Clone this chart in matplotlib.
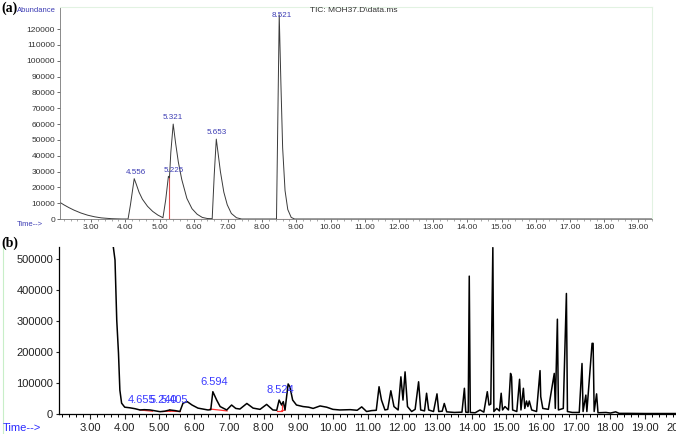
import numpy as np
import matplotlib
matplotlib.use('Agg')
import matplotlib.pyplot as plt
from matplotlib.ticker import MultipleLocator
from matplotlib.lines import Line2D

plt.rcParams['font.family'] = ['Liberation Sans', 'DejaVu Sans']

# ---- panel (a) : TIC trace (time, abundance)
ta = [2.09, 2.2, 2.35, 2.5, 2.7, 2.9, 3.1, 3.3, 3.6, 3.9,
      4.08, 4.15, 4.26, 4.32, 4.4, 4.5, 4.65, 4.8, 4.95, 5.1,
      5.18, 5.26, 5.29, 5.33, 5.4, 5.47, 5.55, 5.65, 5.8, 5.95,
      6.1, 6.25, 6.4, 6.54, 6.6, 6.66, 6.71, 6.78, 6.88, 6.98,
      7.1, 7.25, 7.4, 8.42, 8.5, 8.55, 8.6, 8.67, 8.75, 8.85,
      8.95, 19.4]
va = [10500, 9000, 7200, 5600, 3800, 2400, 1400, 700, 200, 0,
      0, 9000, 25500, 22000, 17000, 12500, 8000, 4800, 2500, 800,
      12000, 27000, 26000, 42000, 60000, 48000, 36000, 25000, 13000, 6500,
      3000, 1000, 300, 200, 28000, 50500, 42000, 30000, 17000, 9000,
      3500, 800, 0, 0, 129000, 85000, 45000, 18000, 6000, 1000,
      0, 0]
lab_a = ['4.556', '5.225', '5.321', '5.653', '8.521']
pk_a = [4.26, 5.26, 5.40, 6.66, 8.50]

# ---- panel (b)
tb = [3.64, 3.67, 3.72, 3.77, 3.82, 3.86, 3.91, 4.0, 4.15, 4.3,
      4.44, 4.56, 4.73, 4.88, 5.02, 5.15, 5.3, 5.45, 5.59, 5.68,
      5.8, 5.94, 6.11, 6.25, 6.4, 6.48, 6.54, 6.65, 6.75, 6.94,
      7.08, 7.2, 7.32, 7.52, 7.7, 7.9, 8.09, 8.27, 8.38, 8.45,
      8.52, 8.57, 8.62, 8.71, 8.76, 8.84, 8.95, 9.14, 9.3, 9.43,
      9.63, 9.82, 10.0, 10.2, 10.5, 10.7, 10.83, 10.97, 11.12, 11.25,
      11.33, 11.4, 11.5, 11.58, 11.67, 11.76, 11.88, 11.96, 12.02, 12.08,
      12.15, 12.27, 12.37, 12.47, 12.53, 12.64, 12.7, 12.76, 12.9, 13.0,
      13.05, 13.15, 13.21, 13.28, 13.5, 13.72, 13.79, 13.83, 13.9, 13.93,
      13.96, 14.1, 14.24, 14.35, 14.45, 14.5, 14.55, 14.61, 14.64, 14.72,
      14.8, 14.85, 14.89, 14.96, 15.06, 15.12, 15.15, 15.18, 15.3, 15.38,
      15.42, 15.49, 15.53, 15.58, 15.62, 15.66, 15.73, 15.87, 15.97, 15.99,
      16.05, 16.21, 16.38, 16.41, 16.47, 16.5, 16.64, 16.73, 16.76, 16.9,
      17.1, 17.18, 17.21, 17.29, 17.32, 17.47, 17.5, 17.53, 17.6, 17.64,
      17.87, 18.0, 18.15, 18.25, 18.5, 19.0, 19.5, 20.2]
vb = [600000, 540000, 497000, 303000, 197000, 77000, 35000, 22000, 20000, 17000,
      13000, 14000, 13000, 10000, 7500, 9000, 13000, 11000, 8000, 35000,
      40000, 29000, 19000, 16000, 13000, 14000, 72000, 45000, 24000, 13000,
      29000, 18000, 16000, 34000, 19000, 15000, 31000, 13000, 12000, 45000,
      29000, 40000, 13000, 97000, 88000, 45000, 29000, 24000, 22000, 18000,
      26000, 22000, 15000, 13000, 14000, 12000, 23000, 8000, 11000, 12000,
      88000, 45000, 13000, 15000, 75000, 24000, 13000, 120000, 45000, 136000,
      24000, 8000, 15000, 104000, 13000, 10000, 67000, 13000, 8000, 65000,
      8000, 9000, 34000, 7000, 5000, 6000, 83000, 6000, 5000, 445000,
      5000, 4000, 13000, 6000, 72000, 29000, 32000, 537000, 8000, 18000,
      10000, 67000, 13000, 24000, 13000, 131000, 120000, 13000, 8000, 112000,
      13000, 83000, 18000, 42000, 24000, 42000, 13000, 8000, 140000, 56000,
      18000, 15000, 131000, 18000, 306000, 13000, 18000, 389000, 8000, 5000,
      5000, 163000, 8000, 61000, 8000, 228000, 228000, 8000, 65000, 4000,
      5000, 3000, 7000, 2000, 2000, 1500, 1500, 1500]
lab_b = ['4.655', '5.240', '5.405', '6.594', '8.524']
pos_b = [4.48, 5.12, 5.43, 6.59, 8.48]

# red integration baselines
red_a = [([4.08, 5.1], [0, 0]), ([5.1, 6.4], [0, 0]), ([5.29, 5.29], [0, 27000]),
         ([6.54, 7.3], [0, 0]), ([8.42, 8.9], [0, 0])]
red_b = [([4.44, 4.8], [13000, 9000]), ([5.1, 5.3, 5.3, 5.3, 5.6], [8000, 9000, 13000, 9000, 8000]),
         ([6.46, 6.95], [16000, 10000]), ([8.38, 8.52, 8.52], [10000, 10000, 29000]),
         ([8.52, 8.62], [10000, 13000])]

fig = plt.figure(figsize=(6.76, 4.34), dpi=100)
W, H = 676.0, 434.0
ax1 = fig.add_axes([60/W, 1-219/H, 592/W, 212/H])
ax2 = fig.add_axes([58.8/W, 1-414/H, 628/W, 167/H])

# ---- (a)
for xs, ys in red_a:
    ax1.plot(xs, ys, color='#e05050', lw=0.8)
ax1.plot(ta, va, color='#3a3a3a', lw=0.7)
ax1.set_xlim(2.09, 19.4)
ax1.set_ylim(0, 134000)
ax1.set_yticks(np.arange(0, 130000, 10000))
ax1.set_yticklabels([str(v) for v in range(0, 130000, 10000)])
ax1.set_xticks(np.arange(3, 20))
ax1.set_xticklabels(['%.2f' % v for v in range(3, 20)])
ax1.xaxis.set_minor_locator(MultipleLocator(0.2))
ax1.tick_params(labelsize=6, colors='#333333', length=2, width=0.5, pad=1.5)
ax1.tick_params(which='minor', length=1.2, width=0.4, colors='#666666')
for s in ['left', 'bottom']:
    ax1.spines[s].set_color('#777777')
    ax1.spines[s].set_linewidth(0.6)
for s in ['top', 'right']:
    ax1.spines[s].set_color('#e2f2e2')
    ax1.spines[s].set_linewidth(0.8)

dy_a = [2, 2, 2, 2, -3]
dx_a = [1, 4, 0, 0, 2]
for i in range(len(lab_a)):
    y = np.interp(pk_a[i], ta, va)
    ax1.annotate(lab_a[i], (pk_a[i], y), xytext=(dx_a[i], dy_a[i]), textcoords='offset points',
                 ha='center', va='bottom', fontsize=5.8, color='#3c3cb4')

fig.text(17/W, 1-10/H, 'Abundance', fontsize=5.5, color='#3c3cb4', va='center')
fig.text(310/W, 1-10/H, 'TIC: MOH37.D\\data.ms', fontsize=6, color='#333333', va='center')
fig.text(17/W, 1-225/H, 'Time-->', fontsize=5.5, color='#3c3cb4', va='center')
fig.text(0.002, 1-8/H, '(a)', fontsize=10, fontweight='bold', family='Liberation Serif', va='center')

# ---- (b)
for xs, ys in red_b:
    ax2.plot(xs, ys, color='#ff3030', lw=0.9)
ax2.plot(tb, vb, color='black', lw=1.1)
ax2.set_xlim(2.1, 20.2)
ax2.set_ylim(0, 539000)
ax2.set_yticks(np.arange(0, 600000, 100000))
ax2.set_yticklabels([str(v) for v in range(0, 600000, 100000)])
ax2.set_xticks(np.arange(3, 21))
ax2.set_xticklabels(['%.2f' % v for v in range(3, 21)])
ax2.xaxis.set_minor_locator(MultipleLocator(0.2))
ax2.tick_params(labelsize=8, colors='#222222', length=3.5, width=0.8)
ax2.tick_params(axis='x', pad=3)
ax2.tick_params(axis='y', length=2.5, pad=1.5)
ax2.tick_params(which='minor', length=2.2, width=0.7)
ax2.spines['top'].set_visible(False)
ax2.spines['right'].set_visible(False)
for s in ['left', 'bottom']:
    ax2.spines[s].set_linewidth(0.9)

for i in range(len(lab_b)):
    grid = np.linspace(pos_b[i]-0.1, pos_b[i]+0.1, 40)
    y = np.interp(grid, tb, vb).max()
    if i < 3:
        y = 13000
    ax2.annotate(lab_b[i], (pos_b[i], y), xytext=(0, 3.5), textcoords='offset points',
                 ha='center', va='bottom', fontsize=8, color='#3a3aff')

fig.text(3/W, 1-428/H, 'Time-->', fontsize=8, color='#2a2aff', va='center')
fig.text(0.002, 1-243/H, '(b)', fontsize=10, fontweight='bold', family='Liberation Serif', va='center')
fig.add_artist(Line2D([3/W, 3/W], [0, 1-245/H], color='#c8eec8', lw=0.8))

fig.savefig('out.png', dpi=100)
